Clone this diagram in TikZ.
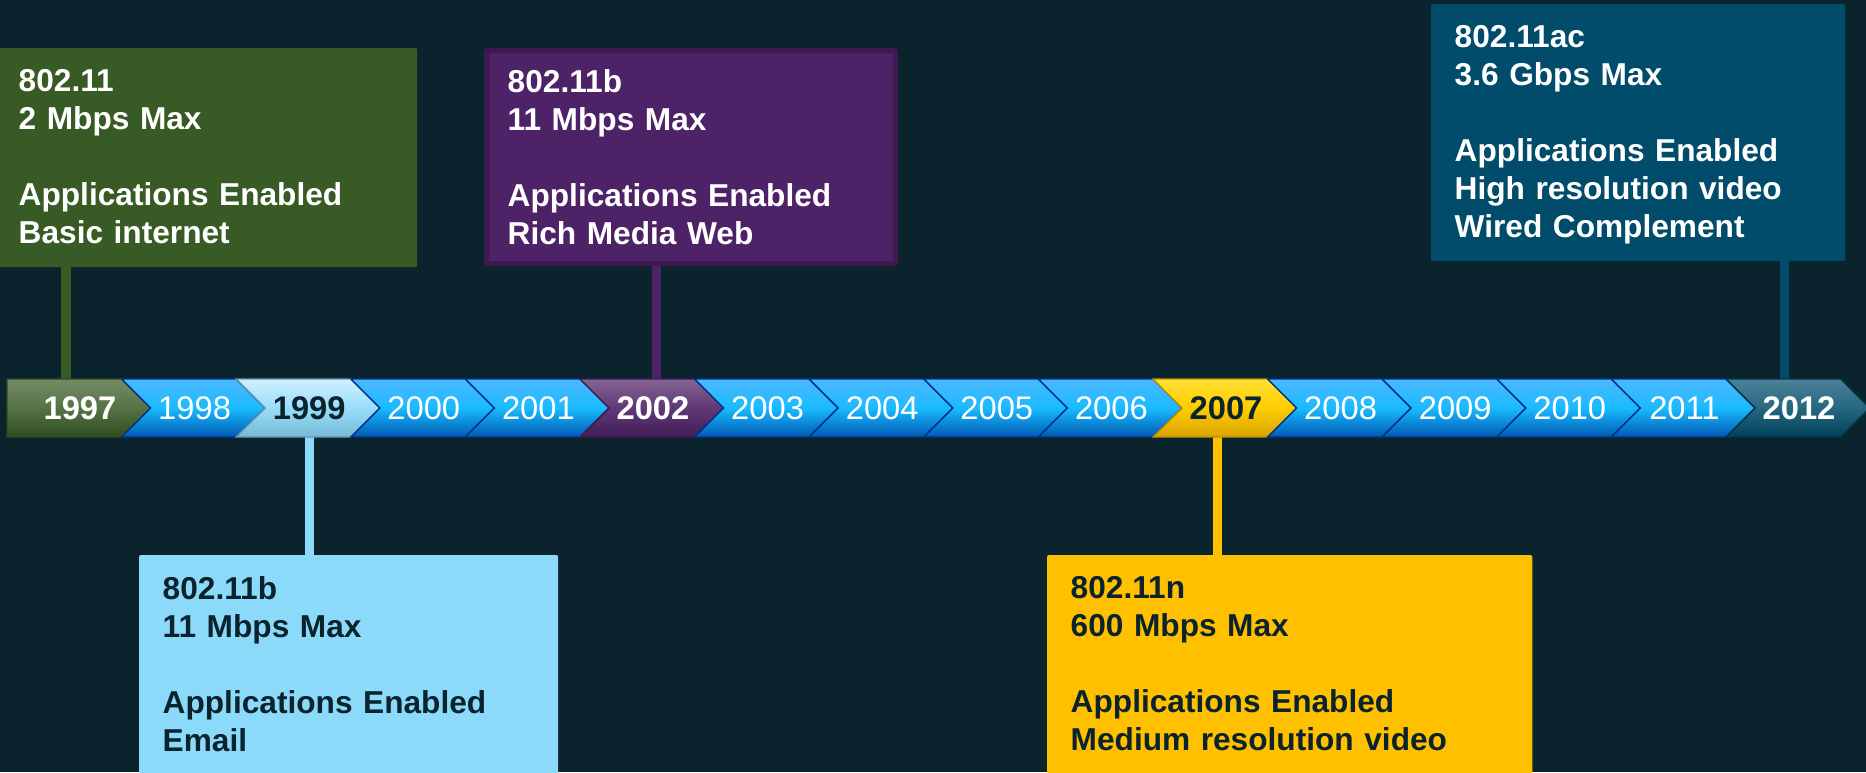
\documentclass[tikz,border=0pt]{standalone}
\usepackage{fontspec}
\setmainfont{Liberation Sans}
\definecolor{bgdark}{HTML}{0A232D}
\definecolor{boxgreen}{HTML}{385A24}
\definecolor{boxpurple}{HTML}{4E2266}
\definecolor{edgepurple}{HTML}{3C1950}
\definecolor{boxlight}{HTML}{8CDAFA}
\definecolor{boxyellow}{HTML}{FFC000}
\definecolor{boxnavy}{HTML}{004C6A}
\tikzset{
  infobox/.style={anchor=north west, rounded corners=0.02cm, inner sep=0pt, outer sep=0pt},
  infotext/.style={anchor=north west, align=left, text width=4.2cm, inner xsep=0.23cm, inner ysep=0.21cm,
    font=\fontsize{9.0}{10.81}\selectfont\bfseries},
  stem/.style={line width=0.09cm},
  chev/.style={line width=0.4pt},
  chblue/.style={chev, draw=blue!40!black!80!cyan, top color=cyan!60!blue!70!white, bottom color=blue!50!cyan!70!black, middle color=cyan!70!blue!90!white},
  chgreen/.style={chev, draw=boxgreen!80!black, top color=boxgreen!70!white, bottom color=boxgreen!85!black, middle color=boxgreen!85!white},
  chlight/.style={chev, draw=boxlight!70!black, top color=boxlight!40!white, bottom color=boxlight!85!black, middle color=boxlight!90!white},
  chpurple/.style={chev, draw=edgepurple, top color=boxpurple!70!white, bottom color=boxpurple!85!black, middle color=boxpurple!90!white},
  chyellow/.style={chev, draw=boxyellow!75!black, top color=boxyellow!60!yellow!80!white, bottom color=boxyellow!85!black, middle color=boxyellow!80!yellow},
  chnavy/.style={chev, draw=boxnavy!70!black, top color=boxnavy!70!white, bottom color=boxnavy!85!black, middle color=boxnavy!85!white},
  yrlo/.style={text=white, font=\fontsize{9.3}{11}\selectfont},
  yrhi/.style={text=white, font=\fontsize{9.3}{11}\selectfont\bfseries},
  yrdark/.style={text=bgdark, font=\fontsize{9.3}{11}\selectfont\bfseries},
}
\begin{document}
\begin{tikzpicture}[x=0.01cm, y=-0.01cm]
  \useasboundingbox (0,0) rectangle (1866,772);
  \fill[bgdark] (0,0) rectangle (1866,772);

  % info boxes
  \node[infobox, fill=boxgreen, minimum width=4.22cm, minimum height=2.19cm] (b1997) at (-5,48) {};
  \node[infotext, text=white] (t1997) at (b1997.north west)
    {802.11\\2 Mbps Max\\[10.81pt]Applications Enabled\\Basic internet};
  \node[infobox, fill=boxpurple, draw=edgepurple, line width=0.05cm, outer sep=0.025cm,
    minimum width=4.09cm, minimum height=2.13cm] (b2002) at (484,48) {};
  \node[infotext, text=white] (t2002) at (b2002.north west)
    {802.11b\\11 Mbps Max\\[10.81pt]Applications Enabled\\Rich Media Web};
  \node[infobox, fill=boxnavy, minimum width=4.14cm, minimum height=2.57cm] (b2012) at (1431,4) {};
  \node[infotext, text=white] (t2012) at (b2012.north west)
    {802.11ac\\3.6 Gbps Max\\[10.81pt]Applications Enabled\\High resolution video\\Wired Complement};
  \node[infobox, fill=boxlight, minimum width=4.19cm, minimum height=2.5cm] (b1999) at (139,555) {};
  \node[infotext, text=bgdark] (t1999) at (b1999.north west)
    {802.11b\\11 Mbps Max\\[10.81pt]Applications Enabled\\Email};
  \node[infobox, fill=boxyellow, minimum width=4.85cm, minimum height=2.5cm] (b2007) at (1047,555) {};
  \node[infotext, text=bgdark] (t2007) at (b2007.north west)
    {802.11n\\600 Mbps Max\\[10.81pt]Applications Enabled\\Medium resolution video};

  % stems
  \coordinate (p1997) at (66,379);
  \coordinate (p2002) at (656,379);
  \coordinate (p2012) at (1784,379);
  \coordinate (p1999) at (309,437);
  \coordinate (p2007) at (1217,437);
  \draw[stem, boxgreen] (b1997.south -| p1997) -- (p1997);
  \draw[stem, boxpurple] (b2002.south -| p2002) -- (p2002);
  \draw[stem, boxnavy] (b2012.south -| p2012) -- (p2012);
  \draw[stem, boxlight] (p1999) -- (p1999 |- b1999.north);
  \draw[stem, boxyellow] (p2007) -- (p2007 |- b2007.north);

  % timeline
  \foreach \yr/\ck/\tk [count=\i from 0] in {1997/chgreen/yrhi, 1998/chblue/yrlo,
      1999/chlight/yrdark, 2000/chblue/yrlo, 2001/chblue/yrlo, 2002/chpurple/yrhi,
      2003/chblue/yrlo, 2004/chblue/yrlo, 2005/chblue/yrlo, 2006/chblue/yrlo,
      2007/chyellow/yrdark, 2008/chblue/yrlo, 2009/chblue/yrlo, 2010/chblue/yrlo,
      2011/chblue/yrlo, 2012/chnavy/yrhi} {
    \pgfmathsetmacro\L{7+114.6*\i}
    \pgfmathsetmacro\R{\L+114.6}
    \pgfmathsetmacro\N{ifthenelse(\i==0,0,29)}
    \draw[\ck] (\L,379) -- (\R,379) -- (\R+29,408) -- (\R,437) -- (\L,437) -- (\L+\N,408) -- cycle;
    \node[\tk] (y\yr) at (\L+73,408) {\yr};
  }
\end{tikzpicture}
\end{document}
